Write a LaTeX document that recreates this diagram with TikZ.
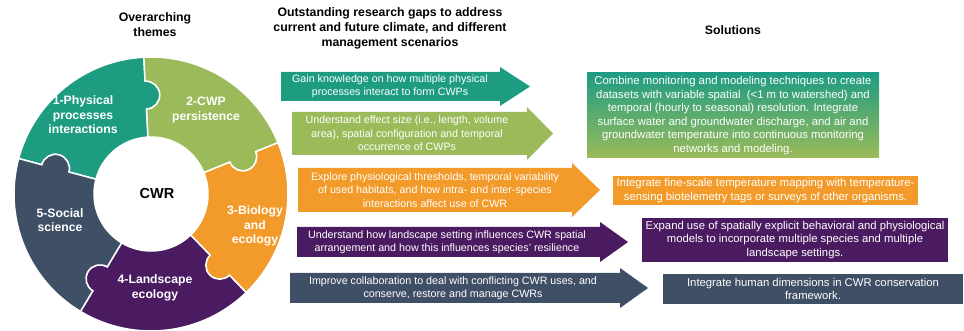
\documentclass[tikz,border=0pt]{standalone}
\usepackage{fontspec}
\setmainfont{Liberation Sans}
\usepackage{tikz}

\definecolor{cwrteal}{HTML}{1E9C82}
\definecolor{cwrgreen}{HTML}{9BBB5A}
\definecolor{cworange}{HTML}{F29B2B}
\definecolor{cwrpurple}{HTML}{4A1B60}
\definecolor{cwrslate}{HTML}{3F4F65}

\begin{document}
\begin{tikzpicture}[x=1pt,y=1pt,
        theme/.style={font=\fontsize{12.2}{14.5}\selectfont\bfseries, text=white, align=center},
        gap/.style={font=\fontsize{10.7}{13.4}\selectfont, text=white, align=center},
        solbox/.style={font=\fontsize{11.3}{13.5}\selectfont, text=white, align=center, inner sep=1pt},
        heading/.style={font=\fontsize{12.3}{15}\selectfont\bfseries, align=center},
        seam/.style={draw=white, line width=1.5pt}]
        \useasboundingbox (0,0) rectangle (964,331);
        % ring of five puzzle pieces, each with a knob into the next one
        \begin{scope}[shift={(151,137)}]
            \foreach \s/\e/\col in {165/93/cwrteal, 93/22/cwrgreen, 22/-46/cworange,
                    -46/-121/cwrpurple, 239/165/cwrslate}
                \filldraw[fill=\col, seam] (\s:137) arc[start angle=\s, end angle=\e, radius=137]
                    -- (\e:113) arc[start angle=\e, end angle=\e-180, radius=14]
                    -- (\e:57) arc[start angle=\e, end angle=\s, radius=57]
                    -- (\s:85) arc[start angle=\s-180, end angle=\s, radius=14] -- cycle;
        \end{scope}
        \node[font=\fontsize{14.5}{16}\selectfont\bfseries] (cwr) at (157,137) {CWR};
        \node[theme] (t1) at (83,216) {1-Physical\\processes\\interactions};
        \node[theme] (t2) at (206,221) {2-CWP\\persistence};
        \node[theme] (t3) at (255,105) {3-Biology\\and\\ecology};
        \node[theme] (t4) at (155,43) {4-Landscape\\ecology};
        \node[theme] (t5) at (60,111) {5-Social\\science};

        % headings
        \node[heading] (h1) at (155,306) {Overarching\\themes};
        \node[heading] (h2) at (390,303) {Outstanding research gaps to address\\current and future climate, and different\\management scenarios};
        \node[heading] (h3) at (733,301) {Solutions};

        % research gap arrows
        \foreach \col/\xa/\xh/\xt/\yb/\yt in {cwrteal/281/500/530/230/259,
                cwrgreen/292/527/553/176/219, cworange/298/572/600/119/163,
                cwrpurple/297/600/628/74/104, cwrslate/290/620/648/28/58}
            \fill[\col] (\xa,\yb) -- (\xh,\yb) -- (\xh,\yb-5) -- (\xt,{(\yb+\yt)/2})
                -- (\xh,\yt+5) -- (\xh,\yt) -- (\xa,\yt) -- cycle;
        \node[gap] (g1) at (390,244.5) {Gain knowledge on how multiple physical\\processes interact to form CWPs};
        \node[gap] (g2) at (407,197.5) {Understand effect size (i.e., length, volume\\area), spatial configuration and temporal\\occurrence of CWPs};
        \node[gap] (g3) at (435,141) {Explore physiological thresholds, temporal variability\\of used habitats, and how intra- and inter-species\\interactions affect use of CWR};
        \node[gap] (g4) at (447,89) {Understand how landscape setting influences CWR spatial\\arrangement and how this influences species’ resilience};
        \node[gap] (g5) at (453,43) {Improve collaboration to deal with conflicting CWR uses, and\\conserve, restore and manage CWRs};

        % solutions
        \node[solbox, top color=cwrteal, bottom color=cwrgreen, minimum width=292pt, minimum height=85pt] (s1) at (733,215.5)
            {Combine monitoring and modeling techniques to create\\datasets with variable spatial \ (<1 m to watershed) and\\temporal (hourly to seasonal) resolution. Integrate\\surface water and groundwater discharge, and air and\\groundwater temperature into continuous monitoring\\networks and modeling.};
        \node[solbox, fill=cworange, minimum width=305pt, minimum height=29pt] (s2) at (765.5,140.5)
            {Integrate fine-scale temperature mapping with temperature-\\sensing biotelemetry tags or surveys of other organisms.};
        \node[solbox, fill=cwrpurple, minimum width=306pt, minimum height=44pt] (s3) at (795,91)
            {Expand use of spatially explicit behavioral and physiological\\models to incorporate multiple species and multiple\\landscape settings.};
        \node[solbox, fill=cwrslate, minimum width=300pt, minimum height=30pt] (s4) at (813,42)
            {Integrate human dimensions in CWR conservation\\framework.};
    \end{tikzpicture}
\end{document}
